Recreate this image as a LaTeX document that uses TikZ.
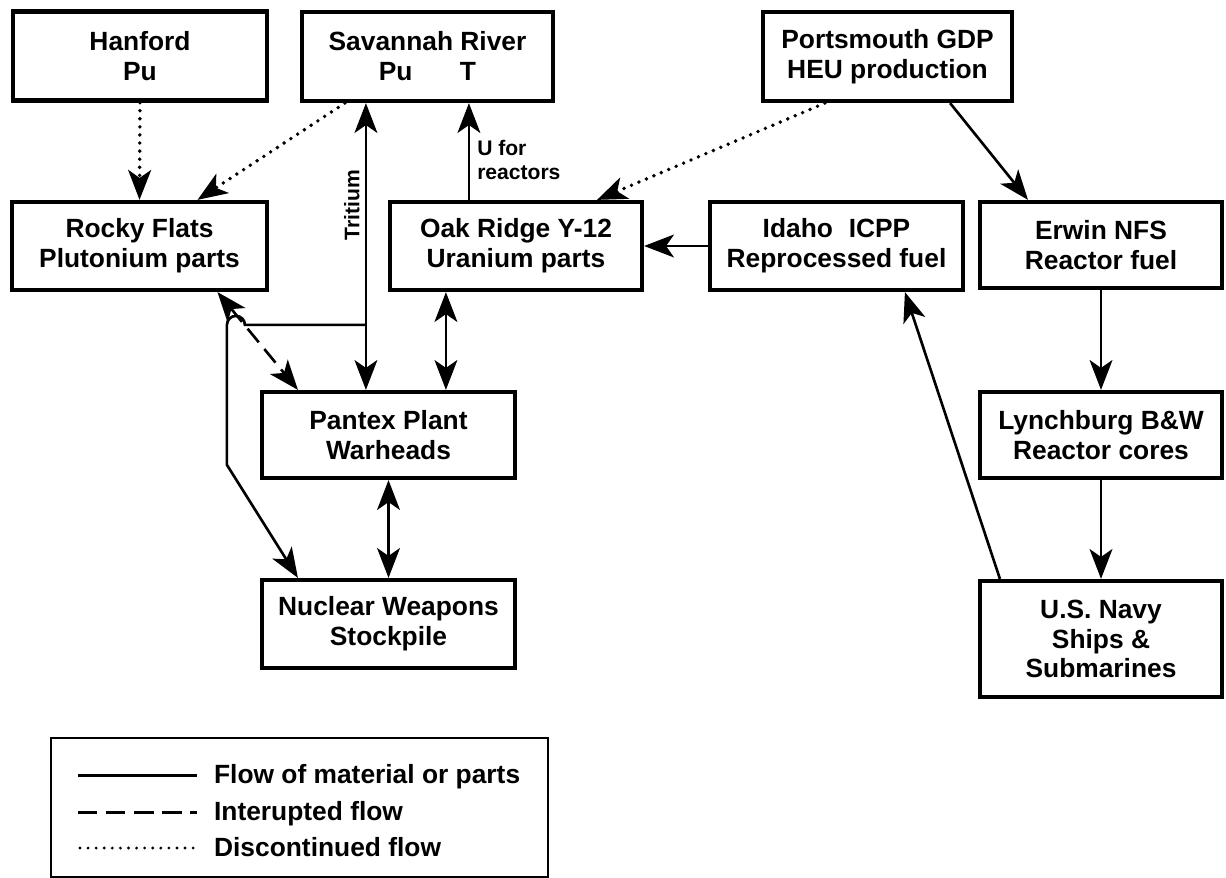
\documentclass[tikz,border=0pt]{standalone}
\usepackage{fontspec}
\setmainfont{Liberation Sans}
\usetikzlibrary{arrows.meta,positioning,calc}

\begin{document}
\begin{tikzpicture}[x=0.02cm, y=-0.02cm,
		>={Stealth[length=17pt,width=13pt,inset=4.5pt]},
		site/.style={draw, rectangle, line width=2.4pt, align=center, inner sep=2pt,
			font=\fontsize{15}{17}\selectfont\bfseries},
		flow/.style={line width=1.5pt},
		interrupted/.style={flow, dash pattern=on 10pt off 5pt},
		discontinued/.style={line width=2.2pt, line cap=round, dash pattern=on 0pt off 4.6pt},
		tag/.style={font=\fontsize{12}{14}\selectfont\bfseries, inner sep=0pt}]
				\useasboundingbox (0,0) rectangle (1226,878);
				
				% Draw production sites
				\node[site, minimum width=5.08cm, minimum height=1.78cm] (hanford) at (140,56) {Hanford\\Pu};
				\node[site, minimum width=5.02cm, minimum height=1.78cm] (savannah) at (427.5,56.5) {Savannah River\\Pu\hspace{1.8em}T};
				\node[site, minimum width=4.98cm, minimum height=1.78cm] (portsmouth) at (887.5,56.5) {Portsmouth GDP\\HEU production};
				
				% Draw processing plants
				\node[site, minimum width=5.10cm, minimum height=1.76cm] (rocky) at (139.5,246) {Rocky Flats\\Plutonium parts};
				\node[site, minimum width=5.04cm, minimum height=1.76cm] (oakridge) at (516,246) {Oak Ridge Y-12\\Uranium parts};
				\node[site, minimum width=5.06cm, minimum height=1.76cm] (idaho) at (836.5,246) {Idaho\hspace{0.6em}ICPP\\Reprocessed fuel};
				\node[site, minimum width=4.84cm, minimum height=1.72cm] (erwin) at (1101,245) {Erwin NFS\\Reactor fuel};
				
				% Draw assembly and end users
				\node[site, minimum width=5.06cm, minimum height=1.72cm] (pantex) at (388.5,435) {Pantex Plant\\Warheads};
				\node[site, minimum width=5.06cm, minimum height=1.76cm] (stockpile) at (388.5,624) {Nuclear Weapons\\Stockpile};
				\node[site, minimum width=4.84cm, minimum height=1.72cm] (lynchburg) at (1101,435) {Lynchburg B\&W\\Reactor cores};
				\node[site, minimum width=4.84cm, minimum height=2.32cm] (navy) at (1101,639) {U.S. Navy\\Ships \&\\Submarines};
				
				% Draw discontinued flows
				\draw[discontinued, ->] (hanford.south) -- (rocky.north);
				\draw[discontinued, ->] ($(savannah.south west)+(45,0)$) -- ($(rocky.north)+(58,0)$);
				\draw[discontinued, ->] ($(portsmouth.south west)+(64,0)$) -- ($(oakridge.north)+(81,0)$);
				
				% Draw weapons flows
				\draw[flow, <->] ($(pantex.north west)+(106,0)$) coordinate (tritium) -- (tritium |- savannah.south);
				\node[tag, rotate=90, anchor=south] (tritiumlabel) at ($(tritium)+(-6,-185)$) {Tritium};
				\draw[flow, ->] ($(oakridge.north west)+(81,0)$) coordinate (ufuel) -- (ufuel |- savannah.south);
				\node[tag, align=left, anchor=west] (ufuellabel) at ($(ufuel)+(8,-40)$) {U for\\reactors};
				\coordinate (junction) at ($(tritium)+(0,-65)$);
				\draw[flow, ->] (junction) -- ++(-121,0) arc[start angle=0, end angle=180, radius=0.18cm]
					-- ++(0,140) -- ($(stockpile.north west)+(38,0)$);
				\draw[interrupted, <->] ($(rocky.south)+(78,0)$) -- ($(pantex.north west)+(38,0)$);
				\draw[flow, <->] ($(oakridge.south west)+(58,0)$) coordinate (oakdown) -- (oakdown |- pantex.north);
				\draw[flow, <->] (pantex.south) -- (stockpile.north);
				
				% Draw reactor fuel flows
				\draw[flow, ->] ($(portsmouth.south east)+(-64,0)$) -- ($(erwin.north)+(-73,0)$);
				\draw[flow, ->] (idaho.west) -- (oakridge.east);
				\draw[flow, ->] (erwin.south) -- (lynchburg.north);
				\draw[flow, ->] (lynchburg.south) -- (navy.north);
				\draw[flow, ->] ($(navy.north west)+(22,0)$) -- ($(idaho.south west)+(197,0)$);
				
				% Draw legend
				\draw[line width=1.6pt] (51,738) rectangle (548,877);
				\draw[line width=1.7pt] (78,775) -- (197,775);
				\draw[line width=1.7pt, dash pattern=on 11pt off 5pt] (78,812) -- (197,812);
				\draw[discontinued, line width=1.8pt] (80,848) -- (197,848);
				\node[site, draw=none, anchor=base west, inner sep=0pt] (legflow) at (212,783) {Flow of material or parts};
				\node[site, draw=none, anchor=base west, inner sep=0pt] (leginter) at (212,820) {Interupted flow};
				\node[site, draw=none, anchor=base west, inner sep=0pt] (legdisc) at (212,856) {Discontinued flow};
			\end{tikzpicture}
\end{document}
